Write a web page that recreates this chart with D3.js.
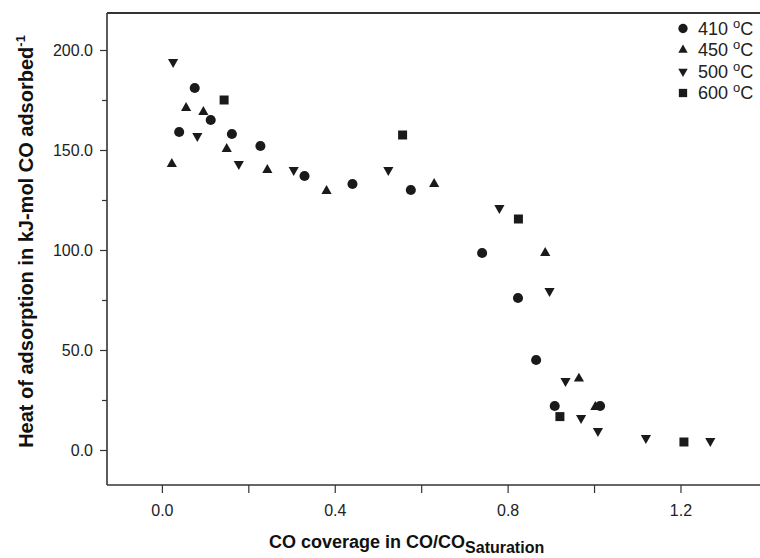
<!DOCTYPE html>
<html>
<head>
<meta charset="utf-8">
<script src="https://cdn.jsdelivr.net/npm/d3@7"></script>
<style>
  html, body { margin: 0; padding: 0; background: #fff; }
  svg { display: block; }
</style>
</head>
<body>
<svg id="chart" width="760" height="558"></svg>
<script>
// ---- Data ----
const seriesNames = ["410 °C", "450 °C", "500 °C", "600 °C"];
const s410 = [[0.076,181],[0.113,165],[0.040,159],[0.162,158],[0.228,152],[0.330,137],[0.441,133],[0.576,130],[0.741,98.5],[0.824,76],[0.866,45],[0.909,22],[1.014,22]];
const s450 = [[0.056,171],[0.096,169],[0.150,150.5],[0.023,143],[0.244,140],[0.381,129.5],[0.630,133],[0.887,98.5],[0.965,35.7],[1.003,21.5]];
const s500 = [[0.026,194],[0.082,157],[0.178,143],[0.305,140],[0.524,140],[0.781,121],[0.897,79.5],[0.934,34.5],[0.970,16],[1.009,9.5],[1.120,6],[1.269,4.5]];
const s600 = [[0.144,175],[0.557,157.5],[0.825,115.5],[0.921,16.7],[1.208,4]];
const xTicks = [0, 0.2, 0.4, 0.6, 0.8, 1.0, 1.2];
const xLabeled = [0, 0.4, 0.8, 1.2];
const yTicks = [0, 25, 50, 75, 100, 125, 150, 175, 200];
const yLabeled = [0, 50, 100, 150, 200];

// ---- Layout ----
const svg = d3.select("#chart");
const pL = 107, pT = 13, pR = 760, pB = 485;
const x = d3.scaleLinear().domain([-0.127, 1.384]).range([pL, pR]);
const y = d3.scaleLinear().domain([-17.5, 218.5]).range([pB, pT]);
const ink = "#1a1a1a";
const fontMain = "'Liberation Sans', Arial, Helvetica, sans-serif";

// Frame top line
svg.append("line").attr("x1", pL).attr("x2", pR).attr("y1", pT).attr("y2", pT)
  .attr("stroke", "#333").attr("stroke-width", 2);

// X axis
const xAxis = d3.axisBottom(x).tickValues(xTicks).tickSize(8).tickPadding(12).tickSizeOuter(0)
  .tickFormat(d => xLabeled.some(v => Math.abs(v - d) < 1e-9) ? d3.format(".1f")(d) : "");
const gx = svg.append("g").attr("transform", `translate(0,${pB})`).call(xAxis);
gx.select(".domain").attr("d", `M${pL},0H${pR}`).attr("stroke", "#333").attr("stroke-width", 1.6);

// Y axis
const yAxis = d3.axisLeft(y).tickValues(yTicks).tickSize(7).tickPadding(7).tickSizeOuter(0)
  .tickFormat(d => yLabeled.includes(d) ? d3.format(".1f")(d) : "");
const gy = svg.append("g").attr("transform", `translate(${pL},0)`).call(yAxis);
gy.select(".domain").attr("d", `M0,${pT}V${pB}`).attr("stroke", "#333").attr("stroke-width", 1.6);
gy.selectAll(".tick").filter(d => !yLabeled.includes(d)).select("line").attr("x2", -5);

[gx, gy].forEach(g => {
  g.selectAll(".tick line").attr("stroke", "#333").attr("stroke-width", 1.2);
  g.selectAll(".tick text").attr("fill", "#222").style("font-family", fontMain).style("font-size", "16px");
});

// Markers
const shapes = [
  { data: s410, type: d3.symbolCircle, size: 80, rot: 0 },
  { data: s450, type: d3.symbolTriangle, size: 45, rot: 0 },
  { data: s500, type: d3.symbolTriangle, size: 45, rot: 180 },
  { data: s600, type: d3.symbolSquare, size: 81, rot: 0 }
];
// draw in reverse so circles sit on top (as in the reference)
shapes.slice().reverse().forEach(s => {
  svg.append("g").selectAll("path").data(s.data).join("path")
    .attr("d", d3.symbol().type(s.type).size(s.size))
    .attr("transform", d => `translate(${x(d[0])},${y(d[1])}) rotate(${s.rot})`)
    .attr("fill", ink);
});

// Legend
const legend = svg.append("g");
seriesNames.forEach((name, i) => {
  const cy = 28.5 + i * 21.5;
  const s = shapes[i];
  legend.append("path")
    .attr("d", d3.symbol().type(s.type).size(s.size * 0.85))
    .attr("transform", `translate(683,${cy}) rotate(${s.rot})`)
    .attr("fill", ink);
  const parts = name.split("°");
  const t = legend.append("text").attr("x", 698).attr("y", cy + 6)
    .attr("fill", "#222").style("font-family", fontMain).style("font-size", "18px");
  t.append("tspan").text(parts[0]);
  t.append("tspan").attr("dy", -7).style("font-size", "13px").text("o");
  t.append("tspan").attr("dy", 7).text(parts[1]);
});

// Axis titles
const xt = svg.append("text").attr("x", 269).attr("y", 548)
  .attr("fill", "#111").style("font-family", fontMain)
  .style("font-size", "18px").style("font-weight", "bold");
xt.append("tspan").text("CO coverage in CO/CO");
xt.append("tspan").attr("dy", 5).style("font-size", "16px").text("Saturation");

const yt = svg.append("text").attr("transform", "translate(33,241.5) rotate(-90)")
  .attr("text-anchor", "middle")
  .attr("fill", "#111").style("font-family", fontMain)
  .style("font-size", "20px").style("font-weight", "bold");
yt.append("tspan").text("Heat of adsorption in kJ-mol CO adsorbed");
yt.append("tspan").attr("dy", -8).style("font-size", "13px").text("-1");
</script>
</body>
</html>
